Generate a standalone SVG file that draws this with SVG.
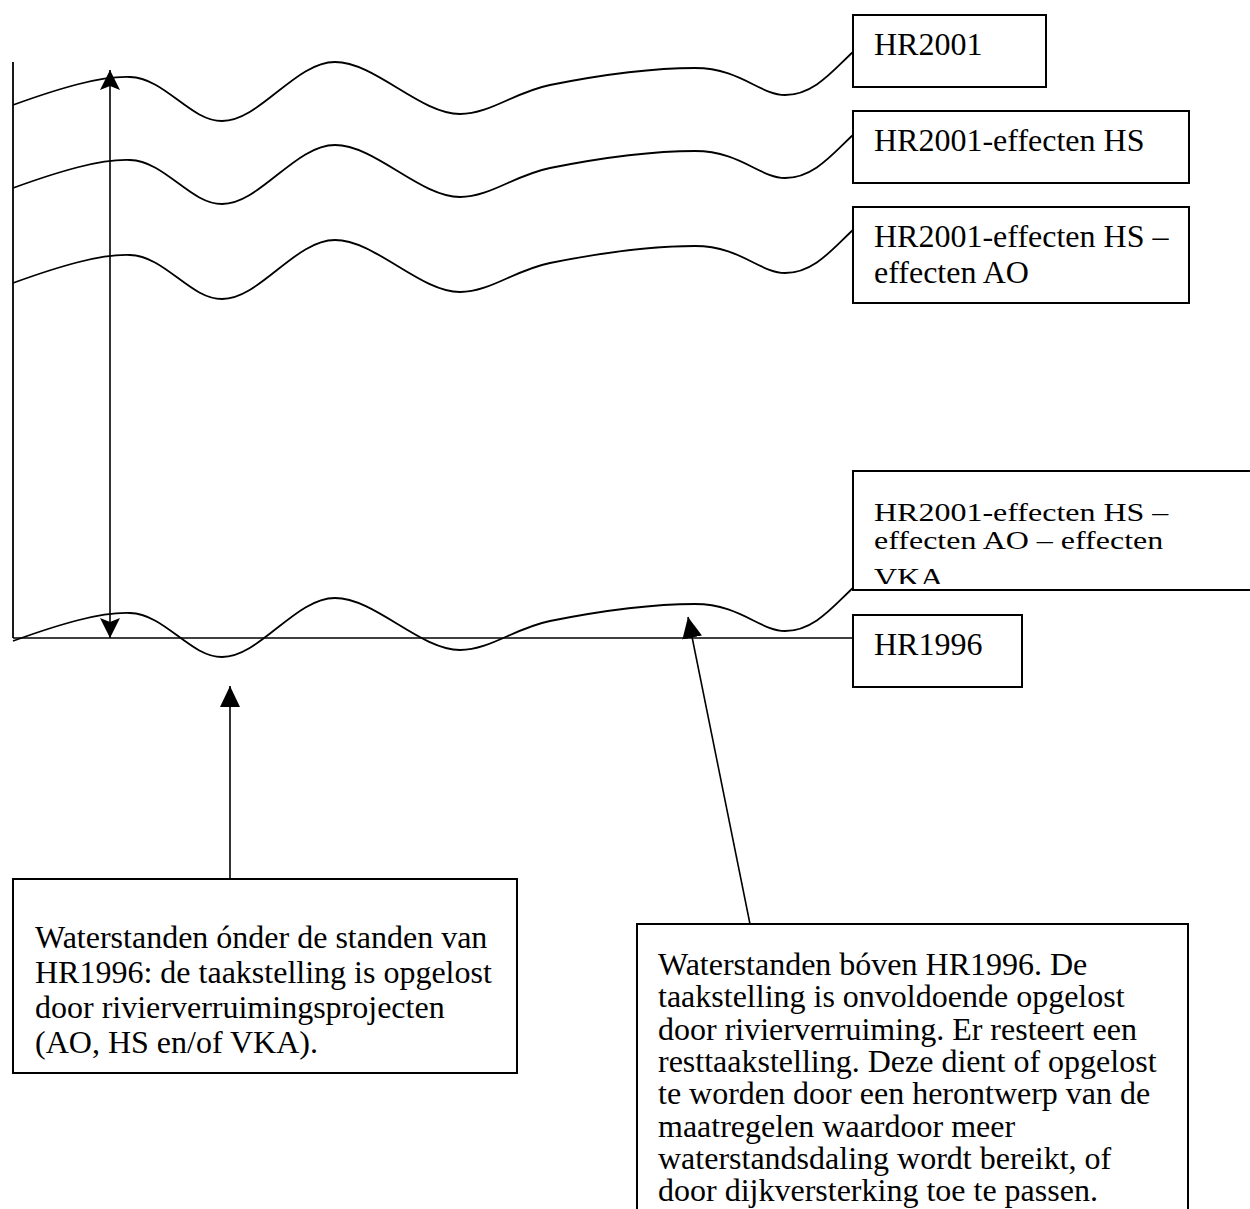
<svg xmlns="http://www.w3.org/2000/svg" width="1250" height="1209" viewBox="0 0 1250 1209">
  <style>
    .box { fill: #ffffff; stroke: #000000; stroke-width: 2; }
    .t { font-family: "Liberation Serif", "Times New Roman", serif; font-size: 32px; fill: #000000; }
    .ln { fill: none; stroke: #000000; stroke-width: 1.8; }
    .cn { fill: none; stroke: #000000; stroke-width: 1.6; }
  </style>
  <defs>
    <path id="wave" d="M13,105 C60,88 100,76 130,77 C165,78 190,121 222,121 C260,121 295,62 335,62 C375,62 420,114 460,114 C490,114 515,92 550,85 C600,75 650,68 695,68 C740,68 760,95 785,95 C815,95 835,68 853,52"/>
    <marker id="stealth" viewBox="0 0 20 20" refX="20" refY="10" markerWidth="20" markerHeight="20" markerUnits="userSpaceOnUse" orient="auto">
      <path d="M0,0 L20,10 L0,20 L4,10 Z" fill="#000000"/>
    </marker>
    <marker id="tri" viewBox="0 0 21 20" refX="21" refY="10" markerWidth="21" markerHeight="20" markerUnits="userSpaceOnUse" orient="auto">
      <path d="M0,0 L21,10 L0,20 Z" fill="#000000"/>
    </marker>
    <clipPath id="vkaClip">
      <rect x="853" y="568" width="400" height="16"/>
    </clipPath>
  </defs>

  <g id="axes">
    <line class="ln" x1="13" y1="62" x2="13" y2="638"/>
  </g>

  <g id="curves">
    <use href="#wave" class="ln"/>
    <use href="#wave" class="ln" transform="translate(0,83)"/>
    <use href="#wave" class="ln" transform="translate(0,178)"/>
    <use href="#wave" class="ln" transform="translate(0,536)"/>
  </g>

  <g id="connectors">
    <line class="cn" x1="13" y1="638" x2="853" y2="638"/>
    <line class="cn" x1="110" y1="354" x2="110" y2="70" marker-end="url(#stealth)"/>
    <line class="cn" x1="110" y1="354" x2="110" y2="638" marker-end="url(#stealth)"/>
    <line class="cn" x1="230" y1="879" x2="230" y2="686" marker-end="url(#tri)"/>
    <line class="cn" x1="750" y1="924" x2="688" y2="617" marker-end="url(#tri)"/>
  </g>

  <g id="node-hr2001">
    <rect class="box" x="853" y="15" width="193" height="72"/>
    <text class="t" x="874" y="55">HR2001</text>
  </g>

  <g id="node-hr2001-hs">
    <rect class="box" x="853" y="111" width="336" height="72"/>
    <text class="t" x="874" y="151">HR2001-effecten HS</text>
  </g>

  <g id="node-hr2001-hs-ao">
    <rect class="box" x="853" y="207" width="336" height="96"/>
    <text class="t"><tspan x="874" y="247">HR2001-effecten HS –</tspan><tspan x="874" y="283">effecten AO</tspan></text>
  </g>

  <g id="node-hr2001-hs-ao-vka">
    <rect class="box" x="853" y="471" width="410" height="119"/>
    <text class="t" transform="translate(874,521) scale(1,0.8)"><tspan x="0" y="0">HR2001-effecten HS –</tspan><tspan x="0" y="35">effecten AO – effecten</tspan></text>
    <g clip-path="url(#vkaClip)">
      <text class="t" transform="translate(874,586) scale(1,0.8)" x="0" y="0">VKA</text>
    </g>
  </g>

  <g id="node-hr1996">
    <rect class="box" x="853" y="615" width="169" height="72"/>
    <text class="t" x="874" y="655">HR1996</text>
  </g>

  <g id="node-below">
    <rect class="box" x="13" y="879" width="504" height="194"/>
    <text class="t"><tspan x="35" y="948">Waterstanden ónder de standen van</tspan><tspan x="35" y="983">HR1996: de taakstelling is opgelost</tspan><tspan x="35" y="1018">door rivierverruimingsprojecten</tspan><tspan x="35" y="1053">(AO, HS en/of VKA).</tspan></text>
  </g>

  <g id="node-above">
    <rect class="box" x="637" y="924" width="551" height="300"/>
    <text class="t"><tspan x="658" y="975">Waterstanden bóven HR1996. De</tspan><tspan x="658" y="1007">taakstelling is onvoldoende opgelost</tspan><tspan x="658" y="1040">door rivierverruiming. Er resteert een</tspan><tspan x="658" y="1072">resttaakstelling. Deze dient of opgelost</tspan><tspan x="658" y="1104">te worden door een herontwerp van de</tspan><tspan x="658" y="1137">maatregelen waardoor meer</tspan><tspan x="658" y="1169">waterstandsdaling wordt bereikt, of</tspan><tspan x="658" y="1201">door dijkversterking toe te passen.</tspan></text>
  </g>
</svg>
